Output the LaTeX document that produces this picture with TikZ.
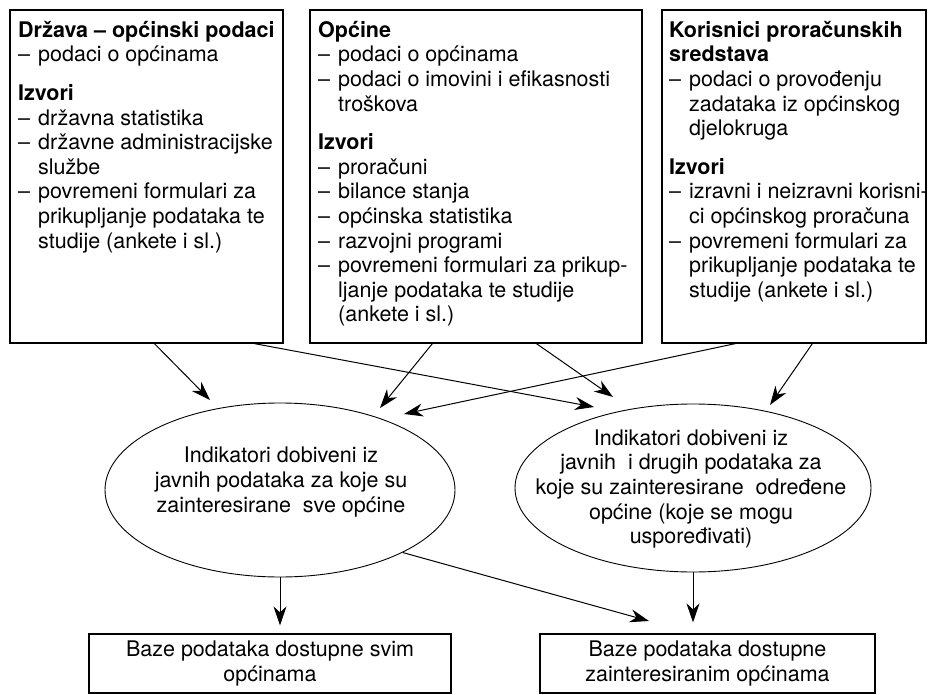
\documentclass[tikz,border=0pt]{standalone}
\usepackage{fontspec}
\setmainfont{TeX Gyre Heros}
\usetikzlibrary{arrows.meta,shapes.geometric,calc}
\newcommand\dl{\makebox[20pt][l]{–}}
\newcommand\cl{\hspace*{20pt}}
\begin{document}
\begin{tikzpicture}[x=1pt,y=-1pt,
  box/.style={draw,line width=1.2pt,rectangle,inner sep=0pt},
  ell/.style={draw,line width=0.9pt,ellipse,inner sep=0pt},
  txt/.style={inner sep=0pt,align=left,anchor=north west,font=\fontsize{21.5}{24.6}\selectfont},
  ctxt/.style={inner sep=0pt,align=center,font=\fontsize{21.5}{24.6}\selectfont},
  arr/.style={line width=1pt,-{Stealth[length=19pt,width=13pt,inset=6pt]}}]
\useasboundingbox (0,0) rectangle (932,695);
% top boxes
\node[box,minimum width=273pt,minimum height=333pt] (b1) at (146.5,176.5) {};
\node[box,minimum width=332pt,minimum height=333pt] (b2) at (476,176.5) {};
\node[box,minimum width=264pt,minimum height=333pt] (b3) at (794,176.5) {};
\node[txt] (t1) at (18,21) {\textbf{Država – općinski podaci}\\
\dl podaci o općinama\\[14pt]
\textbf{Izvori}\\
\dl državna statistika\\
\dl državne administracijske\\
\cl službe\\
\dl povremeni formulari za\\
\cl prikupljanje podataka te\\
\cl studije (ankete i sl.)};
\node[txt] (t2) at (318,21) {\textbf{Općine}\\
\dl podaci o općinama\\
\dl podaci o imovini i efikasnosti\\
\cl troškova\\[14pt]
\textbf{Izvori}\\
\dl proračuni\\
\dl bilance stanja\\
\dl općinska statistika\\
\dl razvojni programi\\
\dl povremeni formulari za prikup-\\
\cl ljanje podataka te studije\\
\cl (ankete i sl.)};
\node[txt] (t3) at (669,21) {\textbf{Korisnici proračunskih}\\
\textbf{sredstava}\\
\dl podaci o provođenju\\
\cl zadataka iz općinskog\\
\cl djelokruga\\[14pt]
\textbf{Izvori}\\
\dl izravni i neizravni korisni-\\
\cl ci općinskog proračuna\\
\dl povremeni formulari za\\
\cl prikupljanje podataka te\\
\cl studije (ankete i sl.)};
% ellipses
\node[ell,minimum width=350pt,minimum height=174pt] (e1) at (280,490) {};
\node[ell,minimum width=356pt,minimum height=168pt] (e2) at (693,488) {};
\node[ctxt] (e1t) at (281,482) {Indikatori dobiveni iz\\ javnih podataka za koje su\\ zainteresirane\ \ sve općine};
\node[ctxt] (e2t) at (691,489) {Indikatori dobiveni iz\\ javnih\ \ i drugih podataka za\\ koje su zainteresirane\ \ određene\\ općine (koje se mogu\\ uspoređivati)};
% bottom boxes
\node[box,minimum width=362pt,minimum height=59pt,ctxt,draw,line width=1.2pt] (b4) at (270,663.5) {Baze podataka dostupne svim\\ općinama};
\node[box,minimum width=335pt,minimum height=59pt,ctxt,draw,line width=1.2pt] (b5) at (707.5,663.5) {Baze podataka dostupne\\ zainteresiranim općinama};
% arrow tips
\coordinate (p1) at (210,400);
\coordinate (p2) at (594,407);
\coordinate (p3) at (380,408);
\coordinate (p4) at (613,397);
\coordinate (p5) at (404,414);
\coordinate (p6) at (770,405);
\coordinate (p8) at (649,621);
% connectors
\draw[arr] ([xshift=145pt]b1.south west) -- (p1);
\draw[arr] ([xshift=245pt]b1.south west) -- (p2);
\draw[arr] ([xshift=123pt]b2.south west) -- (p3);
\draw[arr] ([xshift=227pt]b2.south west) -- (p4);
\draw[arr] ([xshift=74pt]b3.south west) -- (p5);
\draw[arr] ([xshift=151pt]b3.south west) -- (p6);
\draw[arr] (e1.south) -- ([yshift=8pt]b4.north -| e1.south);
\draw[arr] (e1.-27) -- (p8);
\draw[arr] (e2.south) -- ([yshift=11pt]b5.north -| e2.south);
\end{tikzpicture}
\end{document}
